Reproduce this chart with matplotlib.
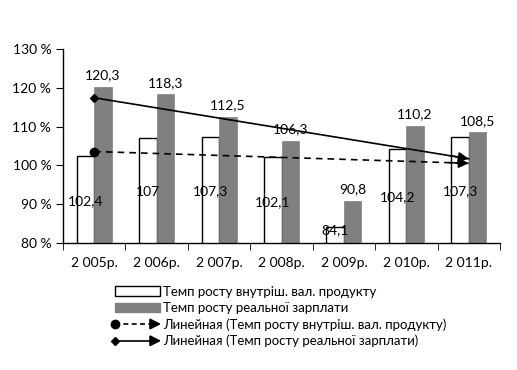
import numpy as np
import matplotlib
matplotlib.use("Agg")
import matplotlib.pyplot as plt
from matplotlib.legend_handler import HandlerBase
from matplotlib.lines import Line2D
from matplotlib.patches import Patch, Polygon

plt.rcParams['font.family'] = ['Lato', 'DejaVu Sans']

years = ["2 005р.", "2 006р.", "2 007р.", "2 008р.", "2 009р.", "2 010р.", "2 011р."]
gdp = [102.4, 107.0, 107.3, 102.1, 84.1, 104.2, 107.3]
wage = [120.3, 118.3, 112.5, 106.3, 90.8, 110.2, 108.5]
gdp_labels = ["102,4", "107", "107,3", "102,1", "84,1", "104,2", "107,3"]
wage_labels = ["120,3", "118,3", "112,5", "106,3", "90,8", "110,2", "108,5"]
name_gdp = "Темп росту внутріш. вал. продукту"
name_wage = "Темп росту реальної зарплати"
name_tr_gdp = "Линейная (Темп росту внутріш. вал. продукту)"
name_tr_wage = "Линейная (Темп росту реальної зарплати)"

GRAY = "#808080"
fig = plt.figure(figsize=(5.17, 3.70), dpi=100)
ax = fig.add_axes([0.122, 0.343, 0.845, 0.525])

x = np.arange(len(years))
w = 0.28
ax.bar(x - w / 2, gdp, w, bottom=0, color="white", edgecolor="black", linewidth=1.0, zorder=2)
ax.bar(x + w / 2, wage, w, color=GRAY, edgecolor=GRAY, linewidth=0.5, zorder=2)

FS = 10
for xi, v, lab in zip(x, gdp, gdp_labels):
    y = max((80 + v) / 2 - 0.4, 83.4)
    ax.text(xi - w / 2, y, lab, ha="center", va="center", fontsize=FS, zorder=5)
for xi, v, lab in zip(x, wage, wage_labels):
    ax.annotate(lab, (xi + w / 2, v), xytext=(0, 4), textcoords="offset points",
                ha="center", va="bottom", fontsize=FS, zorder=5)

# Linear trendlines
for data, ls, mk, ms in [(gdp, (0, (4, 3)), "o", 6), (wage, "-", "D", 4.5)]:
    k, b = np.polyfit(x, data, 1)
    y0, y1 = b + k * x[0], b + k * x[-1]
    ax.plot([x[0], x[-1]], [y0, y1], color="black", lw=1.2, ls=ls, zorder=4)
    ax.plot([x[0]], [y0], marker=mk, color="black", ms=ms, zorder=4)
    ax.annotate("", xy=(x[-1], y1), xytext=(x[-1] - 0.3, y1 - k * 0.3),
                arrowprops=dict(arrowstyle="-|>,head_length=0.6,head_width=0.3",
                                color="black", lw=1.2, shrinkA=0, shrinkB=0), zorder=4)

ax.set_ylim(80, 130)
ax.set_xlim(-0.5, len(years) - 0.5)
ax.set_yticks(np.arange(80, 131, 10))
ax.set_yticklabels([f"{t} %" for t in range(80, 131, 10)], fontsize=FS)
ax.set_xticks(x)
ax.set_xticklabels(years, fontsize=FS)
ax.tick_params(axis="x", length=0, pad=10)
ax.set_xticks(np.arange(-0.5, len(years), 1), minor=True)
ax.tick_params(axis="x", which="minor", length=5, direction="out", color="black")
ax.tick_params(axis="y", length=5, direction="out")
for s in ["top", "right"]:
    ax.spines[s].set_visible(False)
for s in ["left", "bottom"]:
    ax.spines[s].set_color("black")
    ax.spines[s].set_linewidth(1.0)


class TrendHandler(HandlerBase):
    def __init__(self, ls, marker, ms):
        super().__init__()
        self.ls, self.marker, self.ms = ls, marker, ms

    def create_artists(self, legend, orig, xd, yd, width, height, fontsize, trans):
        ym = height / 2 - yd
        x0, x1 = -xd, -xd + width
        line = Line2D([x0, x1 - 6], [ym, ym], color="black", lw=1.2, ls=self.ls, transform=trans)
        m = Line2D([x0], [ym], marker=self.marker, color="black", ms=self.ms, ls="", transform=trans)
        tri = Polygon([[x1 - 7, ym + 3.5], [x1, ym], [x1 - 7, ym - 3.5]], closed=True,
                      color="black", transform=trans)
        return [line, m, tri]


h1 = Patch(facecolor="white", edgecolor="black", linewidth=1.0)
h2 = Patch(facecolor=GRAY, edgecolor=GRAY)


class Dummy:
    pass


d3, d4 = Dummy(), Dummy()
leg = fig.legend([h1, h2, d3, d4], [name_gdp, name_wage, name_tr_gdp, name_tr_wage],
                 handler_map={d3: TrendHandler((0, (3, 2)), "o", 6), d4: TrendHandler("-", "D", 4)},
                 loc="upper left", bbox_to_anchor=(0.222, 0.228), frameon=False, fontsize=9.5,
                 handlelength=3.4, handleheight=0.7, labelspacing=0.32, handletextpad=0.25,
                 borderpad=0, borderaxespad=0)

fig.savefig("out.png", dpi=100)
